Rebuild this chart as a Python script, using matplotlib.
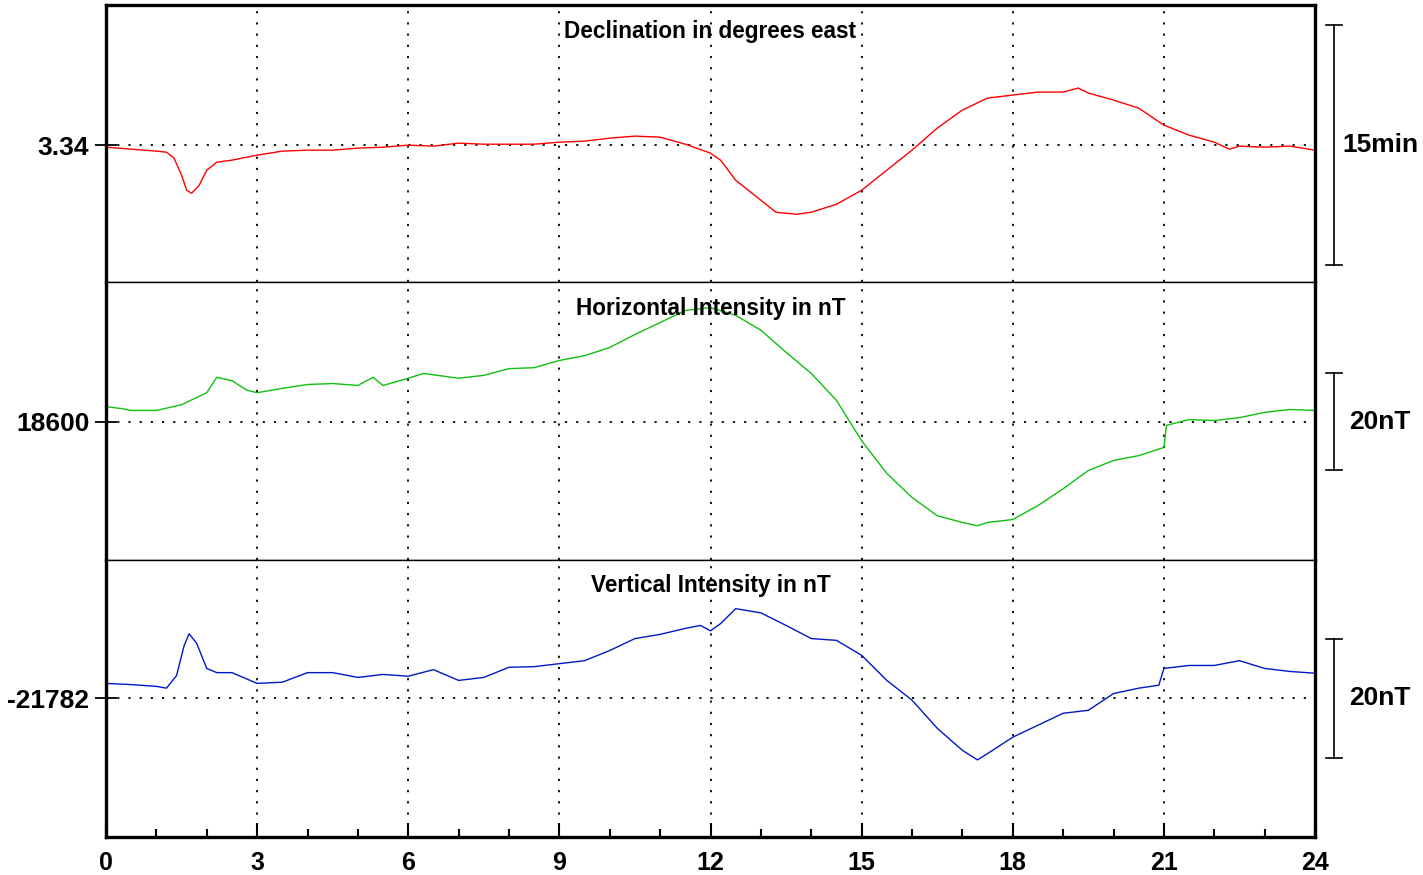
import matplotlib
matplotlib.use("Agg")
import matplotlib.pyplot as plt
import matplotlib.transforms as mtransforms
from matplotlib.ticker import MultipleLocator

plt.rcParams['font.family'] = ['Liberation Sans', 'DejaVu Sans']
plt.rcParams['font.weight'] = 'bold'

## data (hours UT)
t_dec = [0, 0.5, 1.0, 1.2, 1.35, 1.5, 1.6, 1.7, 1.85, 2.0, 2.2, 2.5, 3, 3.5, 4, 4.5, 5, 5.5, 6, 6.5,
         7, 7.5, 8, 8.5, 9, 9.5, 10, 10.5, 11, 11.5, 12, 12.2, 12.5, 13, 13.3, 13.7, 14, 14.5, 15, 15.5,
         16, 16.5, 17, 17.5, 18, 18.5, 19, 19.3, 19.5, 20, 20.5, 21, 21.5, 22, 22.3, 22.5, 23, 23.5, 24]
dec = [3.3379, 3.3358, 3.3338, 3.3327, 3.3265, 3.3088, 3.2931, 3.2900, 3.2983, 3.3140,
       3.3223, 3.3244, 3.3296, 3.3338, 3.3348, 3.3348, 3.3369, 3.3379, 3.3400, 3.3390,
       3.3421, 3.3410, 3.3410, 3.3410, 3.3431, 3.3442, 3.3473, 3.3494, 3.3483, 3.3410,
       3.3317, 3.3244, 3.3035, 3.2827, 3.2702, 3.2681, 3.2702, 3.2785, 3.2931, 3.3140,
       3.3348, 3.3577, 3.3765, 3.3890, 3.3921, 3.3952, 3.3952, 3.3994, 3.3942, 3.3869,
       3.3785, 3.3608, 3.3504, 3.3431, 3.3358, 3.3390, 3.3379, 3.3390, 3.3348]

t_h = [0, 0.3, 0.5, 1.0, 1.5, 2.0, 2.2, 2.5, 2.8, 3.0, 3.5, 4, 4.5, 5, 5.3, 5.5, 6, 6.3, 7, 7.5,
       8, 8.5, 9, 9.5, 10, 10.5, 11, 11.5, 12, 12.5, 13, 13.5, 14, 14.5, 15, 15.5, 16, 16.5, 17, 17.3,
       17.5, 18, 18.5, 19, 19.5, 20, 20.5, 21, 21.05, 21.5, 22, 22.5, 23, 23.5, 24]
hor = [18603.1, 18602.7, 18602.3, 18602.3, 18603.5, 18606.0, 18609.2, 18608.5, 18606.5, 18606.0,
       18606.9, 18607.7, 18607.9, 18607.5, 18609.2, 18607.5, 18609.0, 18610.0, 18609.0, 18609.6,
       18611.0, 18611.2, 18612.7, 18613.7, 18615.4, 18618.1, 18620.6, 18623.1, 18623.7, 18622.1,
       18619.0, 18614.4, 18610.0, 18604.4, 18596.0, 18589.2, 18584.2, 18580.4, 18579.0, 18578.3,
       18579.0, 18579.6, 18582.5, 18586.0, 18589.8, 18591.9, 18592.9, 18594.6, 18599.2, 18600.4,
       18600.2, 18600.8, 18601.9, 18602.5, 18602.3]

t_z = [0, 0.5, 1.0, 1.2, 1.4, 1.55, 1.65, 1.8, 2.0, 2.2, 2.5, 3.0, 3.5, 4, 4.5, 5, 5.5, 6, 6.5, 7,
       7.5, 8, 8.5, 9, 9.5, 10, 10.5, 11, 11.5, 11.8, 12, 12.2, 12.5, 13, 13.5, 14, 14.5, 15, 15.5, 16,
       16.5, 17, 17.3, 17.6, 18, 18.5, 19, 19.5, 20, 20.5, 20.9, 21, 21.5, 22, 22.5, 23, 23.5, 24]
vert = [-21779.5, -21779.7, -21780.0, -21780.3, -21778.2, -21773.2, -21771.2, -21772.8, -21777.0, -21777.7,
        -21777.7, -21779.5, -21779.3, -21777.7, -21777.7, -21778.5, -21778.0, -21778.3, -21777.2, -21779.0,
        -21778.5, -21776.8, -21776.7, -21776.2, -21775.7, -21774.0, -21772.0, -21771.3, -21770.3, -21769.8,
        -21770.7, -21769.5, -21767.0, -21767.7, -21769.8, -21772.0, -21772.3, -21774.8, -21779.0, -21782.3,
        -21787.0, -21790.7, -21792.3, -21790.7, -21788.5, -21786.5, -21784.5, -21784.0, -21781.2, -21780.3,
        -21779.8, -21777.0, -21776.5, -21776.5, -21775.7, -21777.0, -21777.5, -21777.8]

titles = ["Declination in degrees east", "Horizontal Intensity in nT", "Vertical Intensity in nT"]
refs = [3.34, 18600, -21782]
ref_labels = ["3.34", "18600", "-21782"]
ylims = [(3.1973, 3.4858), (18571.25, 18628.96), (-21805.2, -21758.8)]
bar_sizes = [0.25, 20, 20]
bar_labels = ["15min", "20nT", "20nT"]
colors = ["#ff0000", "#10c010", "#0018c8"]
series = [(t_dec, dec), (t_h, hor), (t_z, vert)]

fig = plt.figure(figsize=(14.23, 8.75), dpi=100)
left, width = 106 / 1423, 1209 / 1423
top_px, h_px = 5, 832 / 3

for i in range(3):
    bottom = 1 - (top_px + (i + 1) * h_px) / 875
    ax = fig.add_axes([left, bottom, width, h_px / 875])
    x, y = series[i]
    ax.plot(x, y, color=colors[i], lw=1.0)
    ax.set_xlim(0, 24)
    ax.set_ylim(*ylims[i])

    ## garis grid titik-titik
    for h in range(3, 24, 3):
        ax.axvline(h, color='black', lw=1.3, ls=(0, (1.2, 5)), zorder=0)
    ax.axhline(refs[i], color='black', lw=1.3, ls=(0, (1.2, 5)), zorder=0)

    ax.set_yticks([refs[i]])
    ax.set_yticklabels([ref_labels[i]], fontsize=19, fontweight='bold')
    ax.tick_params(axis='y', direction='inout', length=16, width=1.3, pad=4)

    ax.xaxis.set_major_locator(MultipleLocator(3))
    ax.xaxis.set_minor_locator(MultipleLocator(1))
    if i == 2:
        ax.tick_params(axis='x', which='major', direction='in', length=10, width=1.5, labelsize=18, pad=10)
        ax.tick_params(axis='x', which='minor', direction='in', length=6, width=1.5)
        for lab in ax.get_xticklabels():
            lab.set_fontweight('bold')
    else:
        ax.tick_params(axis='x', which='both', length=0, labelbottom=False)

    for side in ['left', 'right', 'top', 'bottom']:
        ax.spines[side].set_linewidth(1.0)
    ax.spines['left'].set_linewidth(2.4)
    ax.spines['right'].set_linewidth(2.4)
    if i == 0:
        ax.spines['top'].set_linewidth(2.4)
    if i == 2:
        ax.spines['bottom'].set_linewidth(2.4)

    ax.text(0.5, 1 - 26 / h_px, titles[i], transform=ax.transAxes, ha='center', va='center',
            fontsize=16.3, fontweight='bold')

    ## skala di sisi kanan
    tr = mtransforms.blended_transform_factory(ax.transAxes, ax.transData)
    bx = (1334 - 106) / 1209
    cap = 8 / 1209
    lo, hi = refs[i] - bar_sizes[i] / 2, refs[i] + bar_sizes[i] / 2
    ax.plot([bx, bx], [lo, hi], color='black', lw=1.2, transform=tr, clip_on=False)
    ax.plot([bx - cap, bx + cap], [lo, lo], color='black', lw=1.2, transform=tr, clip_on=False)
    ax.plot([bx - cap, bx + cap], [hi, hi], color='black', lw=1.2, transform=tr, clip_on=False)
    ax.text((1380 - 106) / 1209, refs[i], bar_labels[i], transform=tr, ha='center', va='center',
            fontsize=19, fontweight='bold')

fig.savefig("out.png", dpi=100)
